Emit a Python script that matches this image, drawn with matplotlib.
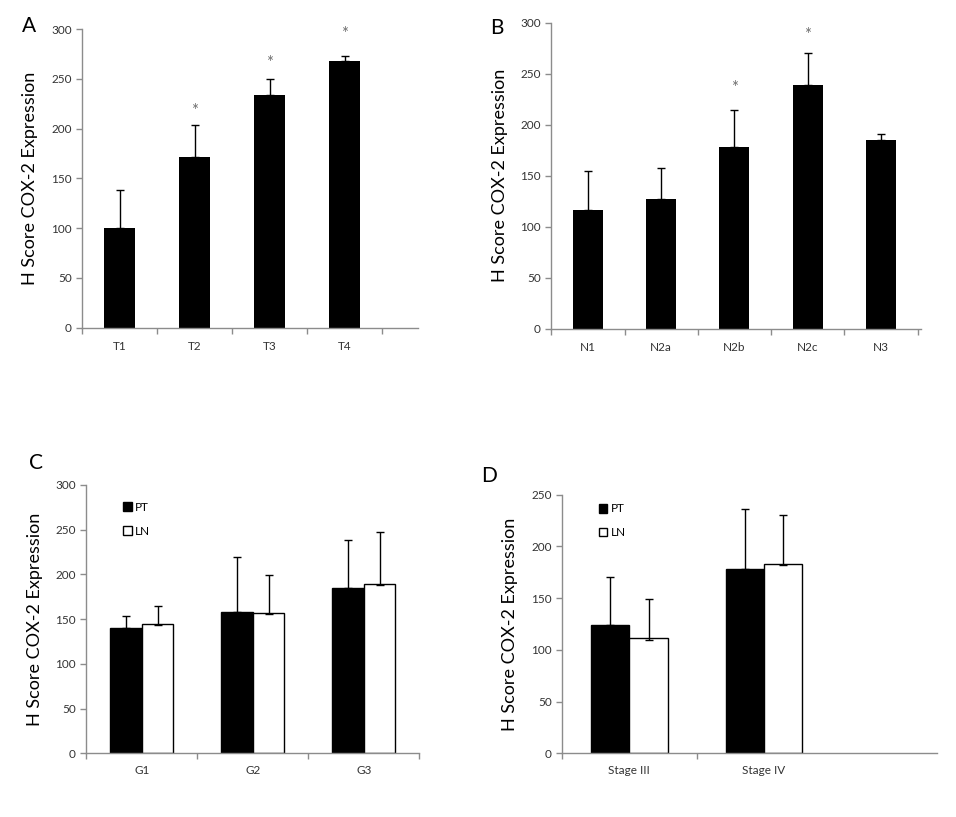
import numpy as np
import matplotlib
matplotlib.use("Agg")
import matplotlib.pyplot as plt
from matplotlib.patches import Patch

plt.rcParams['font.family'] = ['Lato', 'DejaVu Sans']

# Panel A - tumour size
t_labels = ['T1', 'T2', 'T3', 'T4']
t_means = [100, 171, 234, 268]
t_err = [38, 33, 16, 5]
t_star = [None, 218, 266, 295]

# Panel B - nodal status
n_labels = ['N1', 'N2a', 'N2b', 'N2c', 'N3']
n_means = [116, 127, 178, 239, 185]
n_err = [39, 31, 36, 31, 6]
n_star = [None, None, 236, 288, None]

# Panel C - grade, primary tumour vs lymph node
g_labels = ['G1', 'G2', 'G3']
g_pt = [140, 158, 185]
g_pt_err = [14, 62, 53]
g_ln = [145, 157, 189]
g_ln_err = [20, 42, 58]

# Panel D - stage
s_labels = ['Stage III', 'Stage IV']
s_pt = [124, 178]
s_pt_err = [46, 58]
s_ln = [111, 183]
s_ln_err = [38, 47]

SPINE = '#8c8c8c'
TICKC = '#333333'
YLAB = 'H Score COX-2 Expression'

fig = plt.figure(figsize=(9.56, 8.17), dpi=100)


def style_axis(ax, ymax, ystep, n_bounds, xmax):
    ax.set_ylim(0, ymax)
    ax.set_yticks(np.arange(0, ymax + 1, ystep))
    ax.set_xlim(-0.5, xmax)
    for s in ['top', 'right']:
        ax.spines[s].set_visible(False)
    for s in ['left', 'bottom']:
        ax.spines[s].set_color(SPINE)
        ax.spines[s].set_linewidth(1.0)
    ax.set_xticks(np.arange(n_bounds) - 0.5)
    ax.set_xticklabels([])
    ax.tick_params(axis='both', direction='out', length=4, width=1,
                   color=SPINE, labelsize=8.5, labelcolor=TICKC)
    ax.set_ylabel(YLAB, fontsize=13, labelpad=9)


def single_bars(ax, labels, means, err, stars):
    x = np.arange(len(labels))
    ax.bar(x, means, width=0.41, color='black', zorder=2)
    ax.errorbar(x, means, yerr=[np.zeros(len(x)), err], fmt='none',
                ecolor='black', elinewidth=1, capsize=3, capthick=1, zorder=3)
    for xi, st in zip(x, stars):
        if st is not None:
            ax.text(xi, st, '*', ha='center', va='center', fontsize=12,
                    color='#6e6e6e')
    for xi, lab in zip(x, labels):
        ax.text(xi, -0.045, lab, transform=ax.get_xaxis_transform(),
                ha='center', va='top', fontsize=8.5, color=TICKC)


def paired_bars(ax, labels, pt, pt_err, ln, ln_err, anchor):
    x = np.arange(len(labels))
    w = 0.285
    ax.bar(x - w / 2, pt, width=w, color='black', edgecolor='black',
           linewidth=1, zorder=2)
    ax.bar(x + w / 2, ln, width=w, color='white', edgecolor='black',
           linewidth=1, zorder=2)
    ax.errorbar(x - w / 2, pt, yerr=[np.zeros(len(x)), pt_err], fmt='none',
                ecolor='black', elinewidth=1, capsize=3, capthick=1, zorder=3)
    ax.errorbar(x + w / 2, ln, yerr=[np.full(len(x), 1.0), ln_err], fmt='none',
                ecolor='black', elinewidth=1, capsize=3, capthick=1, zorder=3)
    for xi, lab in zip(x, labels):
        ax.text(xi, -0.045, lab, transform=ax.get_xaxis_transform(),
                ha='center', va='top', fontsize=8.5, color=TICKC)
    handles = [Patch(facecolor='black', edgecolor='black', label='PT'),
               Patch(facecolor='white', edgecolor='black', label='LN')]
    ax.legend(handles=handles, loc='upper left', bbox_to_anchor=anchor,
              frameon=False, fontsize=8.5, handlelength=0.75, handleheight=0.75,
              handletextpad=0.3, labelspacing=1.1, borderaxespad=0)


# A
axA = fig.add_axes([82 / 956, 1 - 327.7 / 817, 336 / 956, 298.7 / 817])
style_axis(axA, 300, 50, 5, 3.98)
single_bars(axA, t_labels, t_means, t_err, t_star)
fig.text(22 / 956, 1 - 26 / 817, 'A', fontsize=15, va='center', ha='left')

# B
axB = fig.add_axes([551.3 / 956, 1 - 328.7 / 817, 370 / 956, 306 / 817])
style_axis(axB, 300, 50, 6, 4.55)
single_bars(axB, n_labels, n_means, n_err, n_star)
fig.text(490 / 956, 1 - 28 / 817, 'B', fontsize=15, va='center', ha='left')

# C
axC = fig.add_axes([86.3 / 956, 1 - 753.3 / 817, 333 / 956, 268.3 / 817])
style_axis(axC, 300, 50, 4, 2.5)
paired_bars(axC, g_labels, g_pt, g_pt_err, g_ln, g_ln_err, (0.095, 0.955))
fig.text(29 / 956, 1 - 463 / 817, 'C', fontsize=15, va='center', ha='left')

# D
axD = fig.add_axes([562 / 956, 1 - 753.3 / 817, 375 / 956, 258.6 / 817])
style_axis(axD, 250, 50, 2, 2.284)
paired_bars(axD, s_labels, s_pt, s_pt_err, s_ln, s_ln_err, (0.085, 0.985))
fig.text(481 / 956, 1 - 476 / 817, 'D', fontsize=15, va='center', ha='left')

fig.savefig('out.png', dpi=100)
